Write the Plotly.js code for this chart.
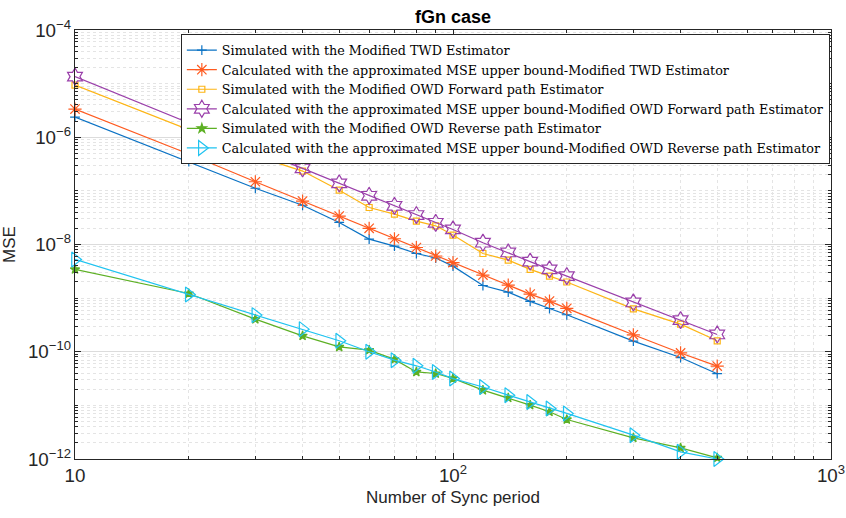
<!DOCTYPE html>
<html>
<head>
<meta charset="utf-8">
<script src="https://cdn.plot.ly/plotly-3.0.1.min.js"></script>
<style>html,body{margin:0;padding:0;background:#fff;}#chart{width:846px;height:518px;}</style>
</head>
<body>
<div id="chart"></div>
<script>
const syncPeriods = [10,20,30,40,50,60,70,80,90,100,120,140,160,180,200,300,400,500];

const simTWD = [2.38e-6,3.5e-7,1.12e-7,5.4e-8,2.58e-8,1.26e-8,9.3e-9,6.8e-9,5.6e-9,3.95e-9,1.72e-9,1.29e-9,8.7e-10,6.4e-10,4.9e-10,1.58e-10,7.8e-11,3.9e-11];
const calcTWD = [3.36e-6,4.86e-7,1.48e-7,6.45e-8,3.39e-8,2.0e-8,1.28e-8,8.8e-9,6.1e-9,4.6e-9,2.69e-9,1.75e-9,1.19e-9,8.8e-10,6.45e-10,2.07e-10,9.5e-11,5.4e-11];
const simFwd = [9.4e-6,1.4e-6,4.5e-7,2.34e-7,1.03e-7,4.9e-8,3.69e-8,2.73e-8,2.23e-8,1.5e-8,6.8e-9,5.1e-9,3.43e-9,2.57e-9,2.0e-9,6.3e-10,3.27e-10,1.6e-10];
const calcFwd = [1.35e-5,1.85e-6,5.77e-7,2.63e-7,1.38e-7,8.1e-8,5.27e-8,3.54e-8,2.54e-8,1.91e-8,1.08e-8,7.1e-9,4.8e-9,3.43e-9,2.57e-9,8.3e-10,3.89e-10,2.1e-10];
const simRev = [3.43e-9,1.22e-9,4.05e-10,1.98e-10,1.23e-10,1.07e-10,7.2e-11,4.2e-11,3.93e-11,3.18e-11,1.92e-11,1.38e-11,1.01e-11,7.6e-12,5.46e-12,2.48e-12,1.61e-12,1.05e-12];
const calcRev = [5.27e-9,1.17e-9,4.82e-10,2.64e-10,1.6e-10,1.0e-10,6.97e-11,5.47e-11,4.2e-11,3.16e-11,2.2e-11,1.55e-11,1.16e-11,8.75e-12,7.08e-12,2.78e-12,1.36e-12,1.0e-12];

const seriesNames = [
  'Simulated with the Modified TWD Estimator',
  'Calculated with the approximated MSE upper bound-Modified TWD Estimator',
  'Simulated with the Modified OWD Forward path Estimator',
  'Calculated with the approximated MSE upper bound-Modified OWD Forward path Estimator',
  'Simulated with the Modified OWD Reverse path Estimator',
  'Calculated with the approximated MSE upper bound-Modified OWD Reverse path Estimator'
];
const seriesValues = [simTWD, calcTWD, simFwd, calcFwd, simRev, calcRev];
const colors = ['#0A72C4','#FF5A1F','#FDB515','#9A3FAA','#5DB024','#1FC3F0'];
const symbols = ['cross-thin-open','asterisk-open','square-open','hexagram-open','star','triangle-right-open'];
const sizes = [7,11,6,13,7,13];

const traces = seriesValues.map((vals, i) => ({
  x: syncPeriods,
  y: vals,
  name: seriesNames[i],
  type: 'scatter',
  mode: 'lines+markers',
  cliponaxis: false,
  line: {color: colors[i], width: 1.2},
  marker: {symbol: symbols[i], size: sizes[i], color: colors[i], line: {color: colors[i], width: 1.2}}
}));

const sansFont = 'Liberation Sans, Arial, sans-serif';
const axisCommon = {
  type: 'log',
  showline: true,
  linecolor: '#262626',
  linewidth: 1,
  mirror: 'allticks',
  ticks: 'inside',
  ticklen: 6,
  tickcolor: '#262626',
  showgrid: true,
  gridcolor: '#dcdcdc',
  gridwidth: 1,
  zeroline: false,
  exponentformat: 'power',
  tickfont: {family: sansFont, size: 15, color: '#262626'},
  minor: {showgrid: true, gridcolor: '#e4e4e4', griddash: 'dot', ticks: 'inside', ticklen: 3, tickcolor: '#262626', dtick: 'D1'}
};

const layout = {
  width: 846,
  height: 518,
  margin: {l: 75, r: 15, t: 30, b: 59},
  paper_bgcolor: '#ffffff',
  plot_bgcolor: '#ffffff',
  showlegend: true,
  title: {text: '<b>fGn case</b>', x: 0.5355, xanchor: 'center', y: 0.968, yanchor: 'middle',
          font: {family: sansFont, size: 18, color: '#000'}},
  xaxis: Object.assign({}, axisCommon, {
    range: [1, 3],
    dtick: 1,
    title: {text: 'Number of Sync period', standoff: 6, font: {family: sansFont, size: 17, color: '#262626'}}
  }),
  yaxis: Object.assign({}, axisCommon, {
    range: [-12, -4],
    dtick: 2,
    title: {text: 'MSE', standoff: 10, font: {family: sansFont, size: 17, color: '#262626'}}
  }),
  legend: {
    x: 0.140, y: 0.99, xanchor: 'left', yanchor: 'top',
    bgcolor: '#ffffff', bordercolor: '#262626', borderwidth: 1,
    font: {family: 'DejaVu Serif, serif', size: 12.75, color: '#000'},
    itemwidth: 30,
    tracegroupgap: 0
  }
};

Plotly.newPlot('chart', traces, layout, {displayModeBar: false, staticPlot: true});
</script>
</body>
</html>
